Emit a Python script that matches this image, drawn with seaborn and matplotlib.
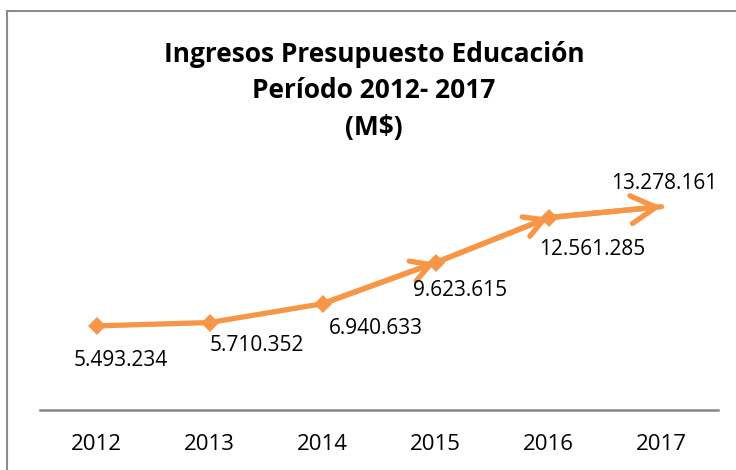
import pandas as pd
import matplotlib.pyplot as plt
import seaborn as sns
from matplotlib.lines import Line2D

# Data
years = [2012, 2013, 2014, 2015, 2016, 2017]
ingresos = [5493234, 5710352, 6940633, 9623615, 12561285, 13278161]
arrow_years = [2015, 2016, 2017]   # points drawn with an arrow head

# label offsets in pixels (dx, dy) relative to each point
label_offsets = [(24, -35), (47, -23), (53, -25), (25, -28), (44, -32), (3, 23)]

df = pd.DataFrame({'Año': years, 'Ingresos': ingresos})

sns.set_style('white')
plt.rcParams['font.family'] = ['Open Sans', 'DejaVu Sans']
plt.rcParams['text.color'] = 'black'
plt.rcParams['xtick.color'] = 'black'

orange = '#F79646'
fig = plt.figure(figsize=(7.36, 4.70), dpi=100)
ax = fig.add_axes([40 / 736, 1 - 410 / 470, 678 / 736, 245 / 470])

sns.lineplot(data=df, x='Año', y='Ingresos', ax=ax, color=orange, linewidth=3.8,
             marker='D', markersize=9, markeredgewidth=0, markevery=list(range(len(years) - 1)),
             solid_capstyle='round')

# arrow heads
for i, yr in enumerate(years):
    if yr in arrow_years:
        big = yr == years[-1]
        ax.annotate('', xy=(yr, ingresos[i]), xytext=(years[i - 1], ingresos[i - 1]),
                    arrowprops=dict(arrowstyle='->,head_length=0.9,head_width=0.5',
                                    color=orange, lw=3.8, mutation_scale=20 if big else 15,
                                    shrinkA=0, shrinkB=0, capstyle='round', joinstyle='round'))

# data labels
for yr, v, (dx, dy) in zip(years, ingresos, label_offsets):
    ax.annotate(f'{v:,}'.replace(',', '.'), xy=(yr, v), xytext=(dx, dy),
                textcoords='offset pixels', ha='center', va='center', fontsize=15, color='black')

ax.set_xlim(years[0] - 0.5, years[-1] + 0.5)
ax.set_ylim(0, 16000000)
ax.set_xticks(years)
ax.set_xticklabels([str(y) for y in years], fontsize=16, color='black')
ax.tick_params(axis='x', length=0, pad=17)
ax.set_yticks([])
ax.set_xlabel('')
ax.set_ylabel('')
for s in ['top', 'right', 'left']:
    ax.spines[s].set_visible(False)
ax.spines['bottom'].set_color('#868686')
ax.spines['bottom'].set_linewidth(1.8)

# title
fig.text(374 / 736, 1 - 91 / 470, 'Ingresos Presupuesto Educación\nPeríodo 2012- 2017\n(M$)',
         ha='center', va='center', fontsize=19, fontweight='bold', linespacing=1.45, color='black')

# chart frame
fig.add_artist(Line2D([7 / 736, 7 / 736], [0, 1 - 11 / 470], transform=fig.transFigure,
                      color='#8C8C8C', lw=1.5))
fig.add_artist(Line2D([7 / 736, 1], [1 - 11 / 470, 1 - 11 / 470], transform=fig.transFigure,
                      color='#8C8C8C', lw=1.5))

plt.savefig('out.png', dpi=100)
